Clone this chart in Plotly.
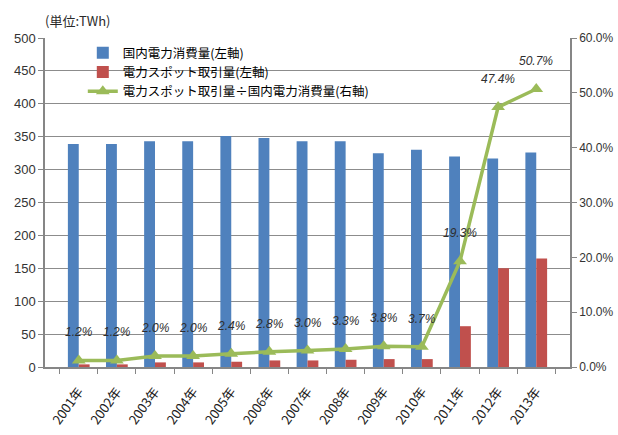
import plotly.graph_objects as go

# Fiscal years shown on the category axis
years = ["2001年", "2002年", "2003年", "2004年", "2005年", "2006年", "2007年",
         "2008年", "2009年", "2010年", "2011年", "2012年", "2013年"]

# Domestic electricity consumption (TWh, left axis)
consumption = [339, 339, 343, 343, 351, 348, 343, 343, 325, 330, 320, 317, 326]

# Spot market trading volume (TWh, left axis)
spot_volume = [4, 4, 7, 7, 8, 10, 10, 11, 12, 12, 62, 150, 165]

# Spot volume as a share of consumption (%, right axis)
spot_share = [1.2, 1.2, 2.0, 2.0, 2.4, 2.8, 3.0, 3.3, 3.8, 3.7, 19.3, 47.4, 50.7]

BLUE = "#4F81BD"
RED = "#C0504D"
GREEN = "#9BBB59"
GRID = "#8C8C8C"
AXIS = "#868686"
NUM_FONT = "Liberation Sans, Arial, Noto Sans CJK JP"
JP_FONT = "Noto Sans CJK JP, Liberation Sans"

fig = go.Figure()

fig.add_trace(go.Bar(
    x=years, y=consumption, name="国内電力消費量(左軸)",
    marker=dict(color=BLUE, line=dict(width=0)),
))
fig.add_trace(go.Bar(
    x=years, y=spot_volume, name="電力スポット取引量(左軸)",
    marker=dict(color=RED, line=dict(width=0)),
))
fig.add_trace(go.Scatter(
    x=years, y=spot_share, name="電力スポット取引量÷国内電力消費量(右軸)",
    yaxis="y2", mode="lines+markers",
    line=dict(color=GREEN, width=3.5),
    marker=dict(symbol="triangle-up", size=12, color=GREEN),
))

# Percentage labels above each point of the share line
for yr, v in zip(years, spot_share):
    fig.add_annotation(
        x=yr, y=v, yref="y2", yshift=28, showarrow=False,
        text=f"{v:.1f}%",
        font=dict(family=NUM_FONT, size=12, color="#2e2e2e", style="italic"),
    )

# Unit caption above the left axis
fig.add_annotation(
    x=0, xref="paper", xanchor="left", xshift=-2,
    y=1.052, yref="paper", yanchor="middle",
    text="(単位:TWh)", showarrow=False,
    font=dict(family=JP_FONT, size=13, color="#2a2a2a"),
)

fig.update_layout(
    width=618, height=435,
    margin=dict(l=45, r=48, t=38, b=68, autoexpand=False),
    paper_bgcolor="white", plot_bgcolor="white",
    barmode="group", bargap=0.43, bargroupgap=0,
    font=dict(family=NUM_FONT, size=12, color="#333333"),
    showlegend=True,
    legend=dict(
        x=0.072, y=1.0, xanchor="left", yanchor="top",
        bgcolor="rgba(0,0,0,0)", borderwidth=0,
        font=dict(family=JP_FONT, size=12.5, color="#000000"),
        tracegroupgap=0, itemwidth=30,
    ),
    xaxis=dict(
        type="category", tickangle=-54,
        showline=True, linecolor=AXIS, linewidth=1.5,
        ticks="outside", tickson="boundaries", ticklen=5, tickcolor=AXIS,
        ticklabelstandoff=10,
        tickfont=dict(family=JP_FONT, size=13, color="#222222"),
        showgrid=False, automargin=False,
    ),
    yaxis=dict(
        range=[0, 500], dtick=50,
        showline=True, linecolor=AXIS, linewidth=1.5,
        ticks="outside", ticklen=5, tickcolor=AXIS,
        showgrid=True, gridcolor=GRID, gridwidth=1.3,
        zeroline=False,
        tickfont=dict(family=NUM_FONT, size=13, color="#333333"),
        automargin=False,
    ),
    yaxis2=dict(
        range=[0, 60], dtick=10, overlaying="y", side="right",
        tickformat=".1f", ticksuffix="%",
        showline=True, linecolor=AXIS, linewidth=1.5,
        ticks="outside", ticklen=5, tickcolor=AXIS,
        showgrid=False, zeroline=False,
        tickfont=dict(family=NUM_FONT, size=12, color="#333333"),
        automargin=False,
    ),
)

fig.write_html("out.html")
